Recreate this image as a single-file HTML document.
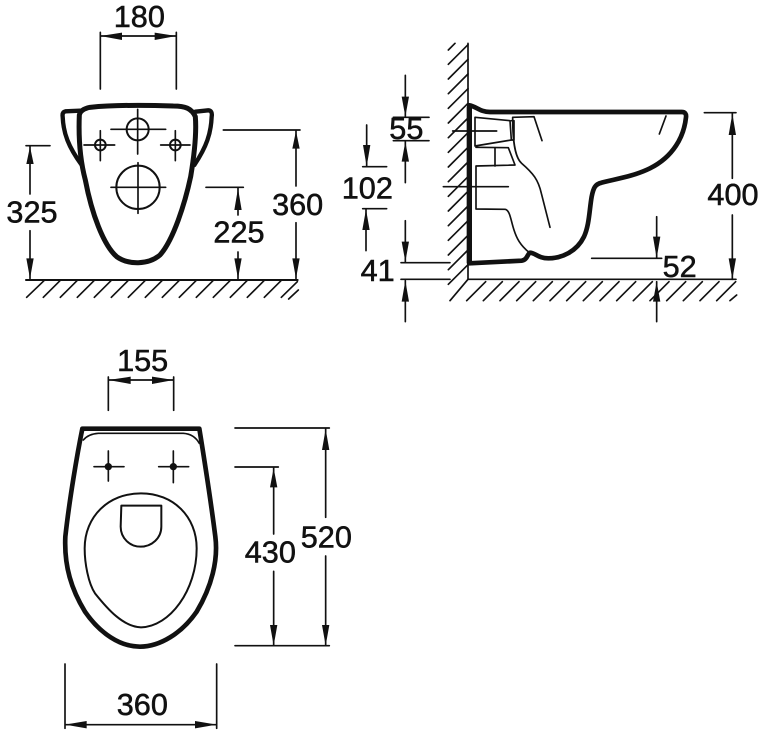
<!DOCTYPE html>
<html><head><meta charset="utf-8"><style>
html,body{margin:0;padding:0;background:#fff;width:760px;height:732px;overflow:hidden}
svg{display:block}
text{font-family:"Liberation Sans",sans-serif;font-size:92px;fill:#111;stroke:#111;stroke-width:1.6px;text-anchor:middle}
</style></head><body>
<svg width="760" height="732" viewBox="0 0 760 732" xmlns="http://www.w3.org/2000/svg">
<rect width="760" height="732" fill="#fff"/>

<!-- FRONT VIEW -->
<g transform="scale(.33333)" fill="none" stroke="#111" stroke-linecap="round" stroke-linejoin="round">
<path stroke-width="15" d="M238 345 C235 420 240 480 256 540 C275 640 310 735 350 770 C385 795 445 795 480 765 C520 720 555 610 572 530 C582 470 590 400 586 350 C575 325 555 318 520 318 C430 315 340 315 270 322 C250 326 240 335 238 345Z"/>
<path stroke-width="13" d="M240 332 L196 334 Q186 336 188 350 C190 400 205 440 245 495"/>
<path stroke-width="13" d="M586 335 L625 331 Q638 332 635 350 C633 400 620 440 583 495"/>
<g stroke-width="5">
<circle cx="413" cy="388" r="33" stroke-width="6"/>
<circle cx="301" cy="435" r="16" stroke-width="6"/>
<circle cx="526" cy="435" r="16" stroke-width="6"/>
<circle cx="414" cy="562" r="65" stroke-width="6"/>
<path d="M333 388H497M413 328V462M252 435H344M301 392V482M482 435H570M526 392V482M333 562H497M414 488V640"/>
</g>
<g stroke-width="5">
<path d="M301 97V267M529 97V267M301 108H529"/>
<path d="M78 437H150M90 437V582M90 692V836M670 390H900M888 390V558M888 668V836M618 562H730M714 562V645M714 756V836"/>
<path d="M78 840H893" stroke-width="6"/>
<path d="M80 892L132 842M130 892L180 842M181 892L231 842M232 892L282 842M283 892L333 842M334 892L384 842M385 892L435 842M436 892L486 842M487 892L537 842M538 892L588 842M589 892L639 842M640 892L690 842M691 892L741 842M742 892L792 842M793 892L843 842M844 892L892 845M866 897L895 870"/>
</g>
<g fill="#111" stroke="none">
<path d="M301 108L366 98V120ZM529 108L464 98V120Z"/>
<path d="M90 440L79 492H101ZM90 836L79 775H101ZM888 393L877 446H899ZM888 836L877 775H899ZM714 565L703 630H725ZM714 836L703 775H725Z"/>
</g>
</g>
<g transform="scale(.33333)">
<text x="418" y="81">180</text>
<text x="96" y="668">325</text>
<text x="717" y="728">225</text>
<text x="893" y="645">360</text>
</g>

<!-- SIDE VIEW -->
<g transform="translate(340 30) scale(.33333)" fill="none" stroke="#111" stroke-linecap="round" stroke-linejoin="round">
<path stroke-width="5" d="M384 40V748H1188"/>
<path stroke-width="16" d="M388 232V698"/>
<path stroke-width="14" d="M388 226 C410 230 420 246 450 246 H1025 Q1040 246 1038 262 C1032 320 1000 380 930 415 C880 440 820 448 785 458 C765 462 760 475 755 500 C748 540 748 585 732 620 C710 665 665 685 625 685 C595 685 585 668 570 668 C562 672 562 690 545 692 L388 700"/>
<g stroke-width="5">
<path d="M405 262 L510 272 L514 330 L405 348 M405 262 V348 M514 272 L522 272 M522 272 V330 M514 330H522"/>
<path d="M408 352 L505 353 L525 405 L408 408 V537 L495 538 C510 540 512 570 522 600 C530 625 540 645 568 668"/>
<path d="M465 354V408"/>
<path d="M518 262 L582 260 L606 332 M518 262 C518 320 522 380 545 400 C580 430 595 450 604 490 L630 592"/>
<path d="M978 258L958 312"/>
<path d="M338 303H470M310 470H505"/>
</g>
<g stroke-width="5">
<path d="M345 40L325 60M384 44L325 103M384 88L325 147M384 132L325 191M384 176L325 235M384 220L325 279M384 264L325 323M384 308L325 367M384 352L325 411M384 396L325 455M384 440L325 499M384 484L325 543M384 528L325 587M384 572L325 631M384 616L325 675M384 660L325 719M384 704L325 763M384 748L330 812"/>
<path d="M437 755L380 812M487 755L430 812M537 755L480 812M587 755L530 812M637 755L580 812M687 755L630 812M737 755L680 812M787 755L730 812M837 755L780 812M887 755L830 812M937 755L880 812M987 755L930 812M1037 755L980 812M1087 755L1030 812M1137 755L1080 812M1187 755L1130 812M1190 795L1170 812"/>
<path d="M196 136V260M160 262H267M160 332H267M196 335V458"/>
<path d="M80 285V410M68 410H140M68 536H140M78 538V662"/>
<path d="M196 572V695M183 698H330M183 748H330M196 752V875"/>
<path d="M950 560V685M755 685H965M950 755V875"/>
<path d="M1093 248H1188M1177 248V445M1177 555V748"/>
</g>
<g fill="#111" stroke="none">
<path d="M196 260L185 200H207ZM196 335L185 395H207Z"/>
<path d="M80 410L69 345H91ZM78 538L67 600H89Z"/>
<path d="M196 695L185 635H207ZM196 752L185 815H207Z"/>
<path d="M950 685L939 620H961ZM950 755L939 815H961Z"/>
<path d="M1177 251L1166 315H1188ZM1177 748L1166 685H1188Z"/>
</g>
</g>
<g transform="translate(340 30) scale(.33333)">
<text x="199" y="327">55</text>
<text x="82" y="505">102</text>
<text x="113" y="753">41</text>
<text x="1019" y="741">52</text>
<text x="1179" y="525">400</text>
</g>

<!-- TOP VIEW -->
<g transform="translate(40 340) scale(.33333)" fill="none" stroke="#111" stroke-linecap="round" stroke-linejoin="round">
<path stroke-width="14" d="M127 266 H478 C490 340 512 480 526 590 C535 660 515 740 470 815 C425 880 360 920 300 920 C240 920 180 880 135 815 C95 750 72 680 76 590 C88 480 112 340 127 266Z"/>
<path stroke-width="5" d="M130 300 Q145 282 175 280 H430 Q462 282 478 310"/>
<path stroke-width="5" d="M130 266H478"/>
<path stroke-width="6" d="M303 460 C400 460 470 530 470 625 C470 750 390 860 303 862 C250 860 205 810 165 760 C145 730 134 670 134 625 C134 530 205 460 303 460Z"/>
<path stroke-width="6" d="M244 497 H364 V560 C364 595 335 620 302 620 C270 620 242 595 242 560Z"/>
<g stroke-width="5">
<path d="M162 380H252M205 333V423M356 380H446M400 333V428"/>
<path d="M205 111V211M401 111V211M205 120H401"/>
<path d="M585 264H868M585 381H715M585 917H868M857 264V532M857 648V917M701 381V582M701 694V917"/>
<path d="M75 972V1165M530 972V1165M75 1154H530"/>
</g>
<g fill="#111" stroke="none">
<circle cx="205" cy="380" r="11"/><circle cx="400" cy="380" r="11"/>
<path d="M205 120L272 110V132ZM401 120L336 110V132Z"/>
<path d="M857 267L846 330H868ZM857 917L846 855H868ZM701 384L690 442H712ZM701 917L690 855H712Z"/>
<path d="M75 1154L140 1143V1165ZM530 1154L465 1143V1165Z"/>
</g>
</g>
<g transform="translate(40 340) scale(.33333)">
<text x="308" y="93">155</text>
<text x="859" y="622">520</text>
<text x="691" y="667">430</text>
<text x="307" y="1125">360</text>
</g>
</svg>
</body></html>
